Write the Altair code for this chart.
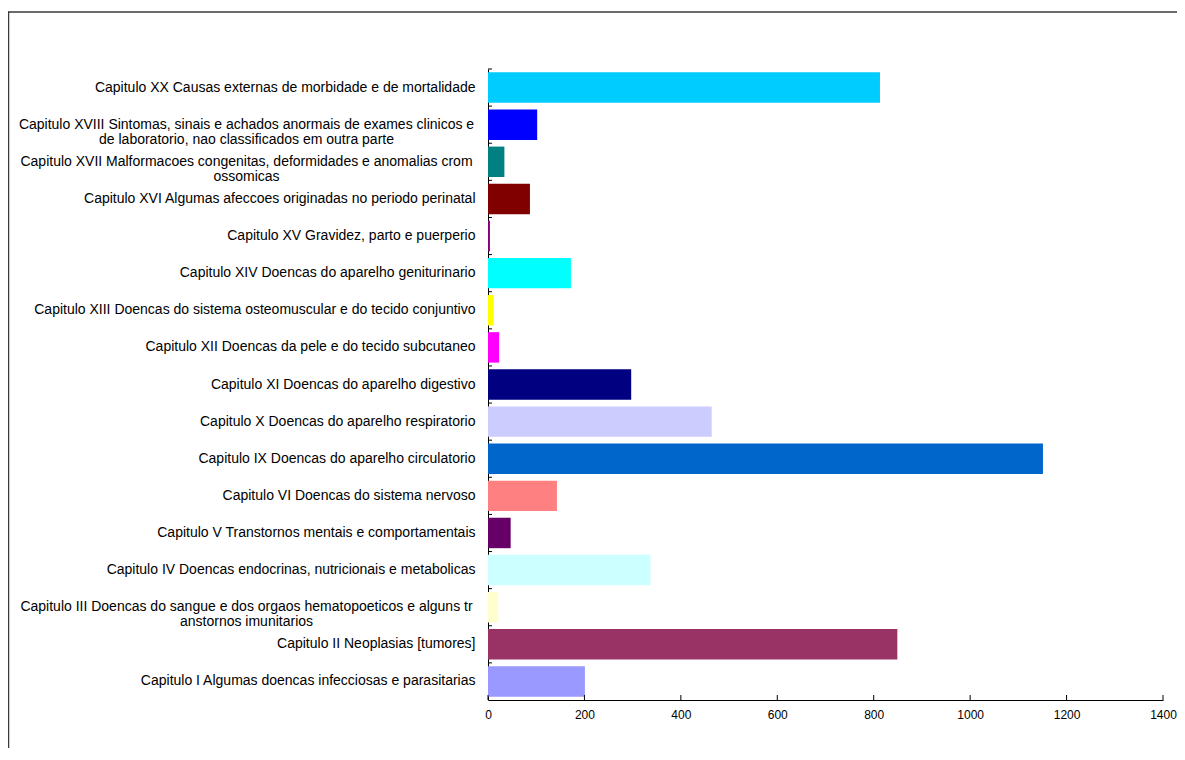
import altair as alt
import pandas as pd

categories = [
    "Capitulo XX Causas externas de morbidade e de mortalidade",
    "Capitulo XVIII Sintomas, sinais e achados anormais de exames clinicos e|de laboratorio, nao classificados em outra parte",
    "Capitulo XVII Malformacoes congenitas, deformidades e anomalias crom|ossomicas",
    "Capitulo XVI Algumas afeccoes originadas no periodo perinatal",
    "Capitulo XV Gravidez, parto e puerperio",
    "Capitulo XIV Doencas do aparelho geniturinario",
    "Capitulo XIII Doencas do sistema osteomuscular e do tecido conjuntivo",
    "Capitulo XII Doencas da pele e do tecido subcutaneo",
    "Capitulo XI Doencas do aparelho digestivo",
    "Capitulo X Doencas do aparelho respiratorio",
    "Capitulo IX Doencas do aparelho circulatorio",
    "Capitulo VI Doencas do sistema nervoso",
    "Capitulo V Transtornos mentais e comportamentais",
    "Capitulo IV Doencas endocrinas, nutricionais e metabolicas",
    "Capitulo III Doencas do sangue e dos orgaos hematopoeticos e alguns tr|anstornos imunitarios",
    "Capitulo II Neoplasias [tumores]",
    "Capitulo I Algumas doencas infecciosas e parasitarias",
]
values = [813, 102, 34, 87, 4, 172, 12, 23, 297, 464, 1151, 143, 47, 337, 21, 849, 201]
colors = ["#00CCFF", "#0000FF", "#008080", "#800000", "#800080", "#00FFFF",
          "#FFFF00", "#FF00FF", "#000080", "#CCCCFF", "#0066CC", "#FF8080",
          "#660066", "#CCFFFF", "#FFFFCC", "#993366", "#9999FF"]
x_ticks = [0, 200, 400, 600, 800, 1000, 1200, 1400]

df = pd.DataFrame({"cat": categories, "val": values})
tick_df = pd.DataFrame({"t": x_ticks})

FONT = "Liberation Sans"
W, H = 675, 631
PL, PT, PR, PB = 480, 61, 14, 48

yaxis = alt.Axis(
    title=None, ticks=False, tickSize=0, domain=True, domainColor="#000000",
    labelFont=FONT, labelFontSize=14, labelColor="#000000", labelLimit=600,
    labelLineHeight=15, labelOverlap=False,
    labelExpr="split(datum.label, '|')",
    labelAlign={"condition": {"test": "indexof(datum.value, '|') >= 0", "value": "center"}, "value": "right"},
    labelPadding={"condition": {"test": "indexof(datum.value, '|') >= 0", "value": 242}, "value": 13},
)
xaxis = alt.Axis(
    title=None, ticks=False, tickSize=0, domainColor="#000000", grid=False,
    values=x_ticks, labelFont=FONT, labelFontSize=12, labelColor="#000000",
    labelPadding=9, format="d", labelFlush=False,
)
yscale = alt.Scale(domain=categories, paddingInner=0, paddingOuter=0)
xscale = alt.Scale(domain=[0, 1400], nice=False, zero=True)

bars = alt.Chart(df).mark_bar(height={"band": 0.82}).encode(
    y=alt.Y("cat:N", sort=categories, scale=yscale, axis=yaxis),
    x=alt.X("val:Q", scale=xscale, axis=xaxis),
    color=alt.Color("cat:N", scale=alt.Scale(domain=categories, range=colors), legend=None),
)

yticks = alt.Chart(df).mark_rule(color="#000000", strokeWidth=1).encode(
    y=alt.Y("cat:N", sort=categories, scale=yscale, axis=yaxis, bandPosition=0),
    x=alt.value(0), x2=alt.value(4),
)

xticks = alt.Chart(tick_df).mark_rule(color="#000000", strokeWidth=1).encode(
    x=alt.X("t:Q", scale=xscale, axis=xaxis),
    y=alt.value(H), y2=alt.value(H - 5),
)

frame_data = alt.Data(values=[{"a": 1}])
frame_top = alt.Chart(frame_data).mark_rule(color="#3a3a3a", strokeWidth=1.5).encode(
    x=alt.value(-PL + 0.5), x2=alt.value(W + PR + 5), y=alt.value(-57),
)
frame_left = alt.Chart(frame_data).mark_rule(color="#3a3a3a", strokeWidth=1.5).encode(
    x=alt.value(-PL + 0.5), y=alt.value(-57.75), y2=alt.value(H + PB + 5),
)

chart = alt.layer(frame_top, frame_left, bars, yticks, xticks).properties(
    width=W, height=H,
    autosize=alt.AutoSizeParams(type="none"),
    padding={"left": PL, "top": PT, "right": PR, "bottom": PB},
).configure(background="#ffffff").configure_view(strokeWidth=0, stroke="transparent")

chart.save("out.html", embed_options={"renderer": "svg", "actions": False})
